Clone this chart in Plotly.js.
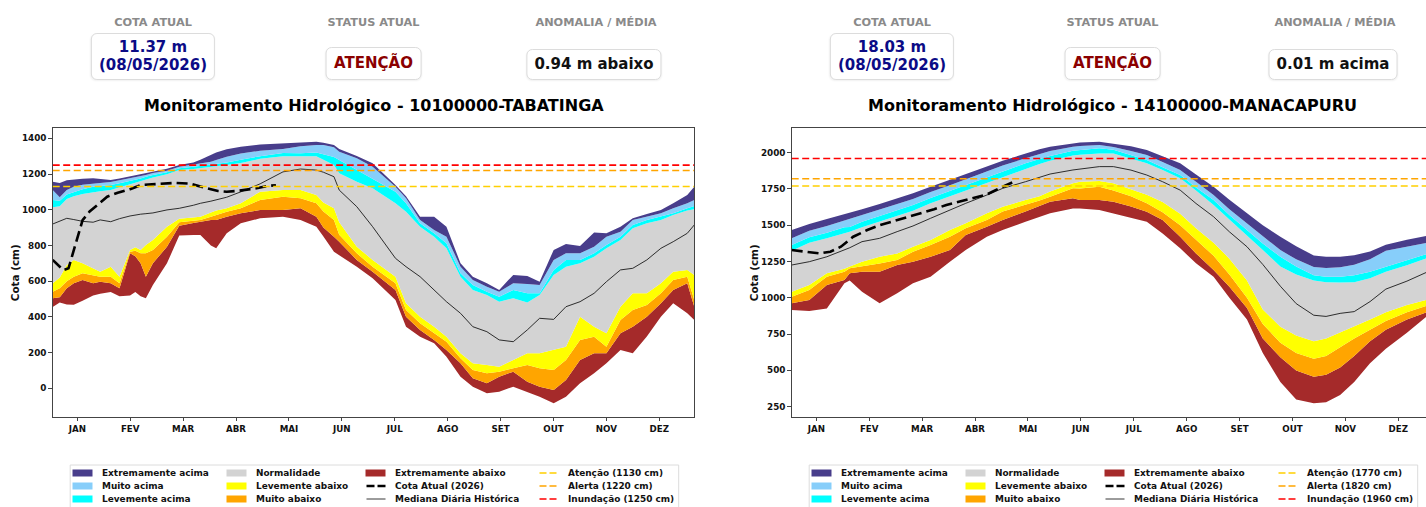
<!DOCTYPE html>
<html><head><meta charset="utf-8">
<script src="https://cdn.plot.ly/plotly-3.0.1.min.js"></script>
<style>
html,body{margin:0;padding:0;background:#fff;overflow:hidden;width:1426px;height:507px;}
#wrap{position:relative;width:1426px;height:507px;overflow:hidden;}
#chart{position:absolute;left:0;top:0;width:1442px;height:507px;}
.lbl{position:absolute;font-family:'DejaVu Sans';font-weight:bold;font-size:11.3px;color:#8a8a8a;transform:translate(-50%,-50%);white-space:nowrap;z-index:5;}
.card{position:absolute;transform:translateX(-50%);border:1px solid #dcdcdc;border-radius:6px;background:#fff;font-family:'DejaVu Sans';font-weight:bold;font-size:15px;text-align:center;box-sizing:border-box;white-space:nowrap;display:flex;flex-direction:column;justify-content:center;line-height:18px;padding:0 7px;z-index:5;box-shadow:0 1px 2px rgba(0,0,0,0.06);}
</style></head>
<body><div id="wrap"><div id="chart"></div></div>
<script>
// ---------------- DATA ----------------
const stationNames = ['10100000-TABATINGA', '14100000-MANACAPURU'];
const cotaAtual = ['11.37 m', '18.03 m'];
const cotaData = ['08/05/2026', '08/05/2026'];
const statusAtual = ['ATENÇÃO', 'ATENÇÃO'];
const anomalia = ['0.94 m abaixo', '0.01 m acima'];

const months = ['JAN','FEV','MAR','ABR','MAI','JUN','JUL','AGO','SET','OUT','NOV','DEZ'];
const monthTickDays = [15, 45.1, 75.2, 105.3, 135.4, 165.5, 195.6, 225.7, 255.8, 285.9, 316, 346.1];

const bandNames = ['Extremamente abaixo','Muito abaixo','Levemente abaixo','Normalidade','Levemente acima','Muito acima','Extremamente acima'];
const thresholdNames = ['Atenção','Alerta','Inundação'];
const tabThresholds = [1130, 1220, 1250];
const manThresholds = [1770, 1820, 1960];
const tabYTicks = [0, 200, 400, 600, 800, 1000, 1200, 1400];
const manYTicks = [250, 500, 750, 1000, 1250, 1500, 1750, 2000];

// TABATINGA (cm) by day of year
const tabDays = [1,5,9,13,18,24,28,34,39,45,48,51,54,58,66,73,81,85,91,94,100,108,119,132,142,151,155,161,164,174,183,196,202,210,218,225,233,240,248,255,263,271,278,286,293,301,309,316,324,331,339,347,354,362,366];
const tabFloor = [455,480,470,468,490,520,530,540,515,520,540,515,504,579,700,855,859,859,800,784,868,924,952,961,943,905,850,765,745,681,616,495,345,289,252,177,65,9,-28,-19,9,-19,-47,-84,-47,28,84,140,215,196,290,401,476,420,383];
const tabExtAbaixo = [504,510,560,588,607,588,597,588,560,756,740,700,625,700,793,910,925,933,943,943,961,980,999,999,1008,961,900,849,821,719,653,551,401,327,271,215,140,56,28,65,93,37,9,-9,47,159,196,196,308,345,401,476,551,588,457];
const tabMuitoAbaixo = [541,560,600,625,644,635,625,625,588,765,770,756,756,775,849,930,938,943,961,971,989,1008,1055,1073,1064,1036,990,943,860,756,681,588,439,364,308,261,168,103,84,93,112,131,112,103,159,271,289,233,383,439,467,532,607,625,495];
const tabLevAbaixo = [588,620,690,719,700,672,653,681,625,775,790,775,803,831,905,950,958,961,985,995,1008,1036,1101,1111,1111,1083,1040,1008,930,793,719,625,476,401,345,289,196,140,131,121,159,196,196,215,233,401,345,308,457,532,532,588,653,663,635];
const tabNormal = [1014,1020,1060,1076,1088,1100,1104,1110,1125,1140,1150,1160,1170,1180,1198,1222,1228,1232,1240,1245,1250,1262,1285,1300,1301,1300,1280,1250,1204,1157,1120,1036,989,905,849,784,625,551,523,485,504,480,523,635,681,700,737,784,831,896,924,943,971,995,1002];
const tabLevAcima = [1054,1050,1085,1100,1115,1128,1132,1138,1148,1160,1165,1175,1185,1195,1210,1232,1240,1245,1252,1258,1264,1280,1300,1318,1316,1320,1310,1295,1279,1223,1176,1101,1036,924,868,812,644,579,541,513,551,532,532,663,719,719,756,803,849,915,943,961,980,1008,1021];
const tabMuitoAcima = [1110,1070,1110,1128,1140,1148,1150,1155,1165,1175,1180,1188,1195,1205,1218,1240,1252,1258,1268,1278,1297,1315,1330,1340,1355,1363,1362,1350,1325,1288,1241,1129,1064,943,887,849,681,607,569,541,588,584,579,719,756,756,793,849,877,943,961,980,1008,1036,1055];
const tabExtAcima = [1157,1150,1165,1170,1174,1176,1172,1166,1175,1188,1194,1200,1205,1212,1230,1250,1265,1280,1305,1320,1338,1352,1365,1372,1375,1380,1375,1363,1340,1301,1260,1139,1075,961,961,905,700,625,588,551,635,629,597,775,808,797,872,868,905,952,976,999,1036,1083,1129];
const tabMediana = [920,935,952,945,935,930,943,933,950,965,971,975,978,982,999,1008,1025,1036,1048,1055,1070,1100,1145,1212,1228,1222,1210,1185,1110,1017,905,728,681,625,551,485,420,345,317,271,261,327,392,386,457,485,532,597,663,672,719,784,821,868,915];
const tabAtualDays = [1,4,7,10,14,18,22,27,32,38,45,51,60,70,79,84,89,95,100,106,111,117,123,128];
const tabAtual = [719,690,662,672,800,942,990,1030,1073,1095,1115,1138,1145,1150,1146,1135,1120,1105,1101,1105,1111,1120,1133,1137];

// MANACAPURU (cm) by day of year
const manDays = [1,11,21,31,34,41,51,61,70,80,91,100,112,121,134,142,148,161,165,176,184,194,203,212,222,231,241,250,260,269,279,288,298,305,313,321,330,339,351,362,366];
const manFloor = [916,909,927,1100,1120,1042,962,1031,1100,1146,1249,1329,1421,1467,1524,1555,1582,1616,1616,1605,1582,1555,1525,1444,1341,1238,1146,1000,850,620,420,300,273,280,330,420,550,650,760,870,880];
const manExtAbaixo = [962,985,1088,1123,1169,1180,1180,1226,1249,1283,1329,1433,1490,1536,1594,1630,1662,1686,1674,1674,1662,1630,1593,1536,1421,1306,1192,1077,930,720,590,500,457,470,520,600,700,780,850,900,905];
const manMuitoAbaixo = [1008,1054,1146,1180,1203,1215,1237,1260,1318,1364,1421,1479,1536,1594,1640,1670,1697,1755,1754,1766,1740,1700,1651,1590,1500,1400,1290,1160,1000,820,690,620,580,600,660,720,780,840,900,945,950];
const manLevAbaixo = [1042,1088,1169,1200,1215,1249,1283,1306,1352,1398,1467,1513,1582,1628,1674,1700,1732,1789,1800,1805,1790,1750,1710,1660,1580,1480,1380,1270,1120,920,800,740,700,720,760,800,850,900,950,985,990];
const manNormal = [1325,1380,1410,1444,1456,1486,1525,1566,1600,1651,1699,1741,1796,1834,1892,1922,1945,1981,1985,1995,1995,1960,1927,1880,1823,1740,1640,1540,1433,1330,1215,1160,1120,1108,1105,1108,1135,1180,1225,1272,1280];
const manLevAcima = [1364,1417,1449,1486,1488,1525,1564,1605,1639,1688,1736,1777,1832,1871,1927,1956,1977,2014,2018,2030,2021,1985,1950,1900,1846,1760,1674,1570,1467,1375,1283,1215,1155,1145,1145,1155,1180,1215,1260,1300,1305];
const manMuitoAcima = [1410,1463,1495,1532,1543,1568,1605,1646,1681,1729,1775,1816,1869,1911,1961,1991,2012,2041,2046,2053,2039,2012,1984,1935,1881,1800,1708,1610,1513,1420,1329,1265,1212,1205,1210,1228,1265,1325,1352,1380,1388];
const manExtAcima = [1467,1508,1543,1575,1587,1610,1646,1685,1720,1766,1812,1851,1904,1945,1995,2023,2041,2064,2071,2076,2064,2045,2018,1975,1927,1850,1766,1675,1582,1500,1421,1355,1292,1283,1283,1293,1320,1365,1400,1430,1436];
const manMediana = [1226,1249,1283,1329,1345,1387,1410,1456,1495,1548,1605,1651,1708,1754,1800,1830,1853,1881,1888,1904,1904,1880,1846,1800,1742,1650,1559,1455,1352,1230,1080,960,880,872,893,905,974,1060,1115,1175,1182];
const manAtualDays = [1,10,17,23,29,36,44,51,61,70,82,89,100,112,120,125,128];
const manAtual = [1329,1318,1306,1318,1352,1421,1467,1500,1535,1570,1610,1640,1672,1712,1760,1785,1803];

// ---------------- STYLE ----------------
const W = 1442, H = 507;
const FONT = 'DejaVu Sans';
const LEGEND_SIZE = 8.95;
const bandColors = ['#A52A2A','#FFA500','#FFFF00','#D3D3D3','#00FFFF','#87CEFA','#483D8B'];
const thresholdColors = ['#FFD000','#FFA500','#FF0000'];
const plotLeft = [52.7, 791.7];
const plotW = 641.6, plotTop = 128.3, plotBottom = 416.7;
const px = v => v / W, py = v => 1 - v / H;

const stations = [
  {days: tabDays, bounds: [tabFloor, tabExtAbaixo, tabMuitoAbaixo, tabLevAbaixo, tabNormal, tabLevAcima, tabMuitoAcima, tabExtAcima],
   med: tabMediana, curD: tabAtualDays, cur: tabAtual, thr: tabThresholds, yticks: tabYTicks, yrange: [-159, 1456]},
  {days: manDays, bounds: [manFloor, manExtAbaixo, manMuitoAbaixo, manLevAbaixo, manNormal, manLevAcima, manMuitoAcima, manExtAcima],
   med: manMediana, curD: manAtualDays, cur: manAtual, thr: manThresholds, yticks: manYTicks, yrange: [181, 2168]}
];

const traces = [], shapes = [], annotations = [];
const layout = {
  width: W, height: H, margin: {l:0, r:0, t:0, b:0},
  paper_bgcolor: '#fff', plot_bgcolor: '#fff', showlegend: false,
  font: {family: FONT, color: '#111'}
};

stations.forEach((s, i) => {
  const xa = i === 0 ? 'x' : 'x2', ya = i === 0 ? 'y' : 'y2';
  const xk = i === 0 ? 'xaxis' : 'xaxis2', yk = i === 0 ? 'yaxis' : 'yaxis2';
  traces.push({x: s.days, y: s.bounds[0], xaxis: xa, yaxis: ya, mode: 'lines', line: {width: 0, color: bandColors[0]}, hoverinfo: 'skip'});
  for (let k = 1; k < s.bounds.length; k++) {
    traces.push({x: s.days, y: s.bounds[k], xaxis: xa, yaxis: ya, mode: 'lines', line: {width: 0, color: bandColors[k-1]},
      fill: 'tonexty', fillcolor: bandColors[k-1], name: bandNames[k-1], hoverinfo: 'skip'});
  }
  traces.push({x: s.days, y: s.med, xaxis: xa, yaxis: ya, mode: 'lines', line: {color: '#1a1a1a', width: 0.9}, name: 'Mediana Diária Histórica'});
  traces.push({x: s.curD, y: s.cur, xaxis: xa, yaxis: ya, mode: 'lines', line: {color: '#000', width: 2.6, dash: '11px,5px'}, name: 'Cota Atual (2026)'});
  s.thr.forEach((v, t) => {
    shapes.push({type: 'line', xref: xa, yref: ya, x0: 1, x1: 366, y0: v, y1: v, layer: 'above',
      line: {color: thresholdColors[t], width: 1.6, dash: '7px,3.5px'}});
  });

  const L = plotLeft[i];
  layout[xk] = {domain: [px(L), px(L + plotW)], range: [1, 366], anchor: ya,
    tickvals: monthTickDays, ticktext: months, ticks: 'outside', ticklen: 3.5, tickcolor: '#444', tickwidth: 1,
    showline: true, mirror: true, linecolor: '#444', linewidth: 1, showgrid: false, zeroline: false,
    tickfont: {family: FONT, size: 8.7, color: '#111', weight: 'bold'}};
  layout[yk] = {domain: [py(plotBottom), py(plotTop)], range: s.yrange, anchor: xa,
    tickvals: s.yticks, ticks: 'outside', ticklen: 3.5, tickcolor: '#444', tickwidth: 1,
    showline: true, mirror: true, linecolor: '#444', linewidth: 1, showgrid: false, zeroline: false,
    tickfont: {family: FONT, size: 8.8, color: '#111', weight: 'bold'}};

  annotations.push({xref: 'paper', yref: 'paper', x: px(L + plotW / 2), y: py(106), xanchor: 'center', yanchor: 'middle',
    text: 'Monitoramento Hidrológico - ' + stationNames[i], showarrow: false,
    font: {family: FONT, size: 16, color: '#000', weight: 'bold'}});
  annotations.push({xref: 'paper', yref: 'paper', x: px(L - 37.5), y: py(273), xanchor: 'center', yanchor: 'middle',
    text: 'Cota (cm)', textangle: -90, showarrow: false, font: {family: FONT, size: 10.4, color: '#111', weight: 'bold'}});

  shapes.push({type: 'rect', xref: 'paper', yref: 'paper', x0: px(L + 17.5), x1: px(L + 626), y0: py(465), y1: py(520),
    line: {color: '#dcdcdc', width: 1}, fillcolor: 'rgba(255,255,255,0.9)', layer: 'below'});
  const colX = [19.8, 173.8, 312.8, 485.8];
  const rowY = [473, 486, 499];
  const items = [
    {c:0, r:0, kind:'patch', color: bandColors[6], label: bandNames[6]},
    {c:0, r:1, kind:'patch', color: bandColors[5], label: bandNames[5]},
    {c:0, r:2, kind:'patch', color: bandColors[4], label: bandNames[4]},
    {c:1, r:0, kind:'patch', color: bandColors[3], label: bandNames[3]},
    {c:1, r:1, kind:'patch', color: bandColors[2], label: bandNames[2]},
    {c:1, r:2, kind:'patch', color: bandColors[1], label: bandNames[1]},
    {c:2, r:0, kind:'patch', color: bandColors[0], label: bandNames[0]},
    {c:2, r:1, kind:'line', color: '#000', width: 2.6, dash: '8px,3px', label: 'Cota Atual (2026)'},
    {c:2, r:2, kind:'line', color: '#222', width: 0.9, dash: 'solid', label: 'Mediana Diária Histórica'},
    {c:3, r:0, kind:'line', color: thresholdColors[0], width: 1.4, dash: '7px,3px', label: thresholdNames[0] + ' (' + s.thr[0] + ' cm)'},
    {c:3, r:1, kind:'line', color: thresholdColors[1], width: 1.4, dash: '7px,3px', label: thresholdNames[1] + ' (' + s.thr[1] + ' cm)'},
    {c:3, r:2, kind:'line', color: thresholdColors[2], width: 1.4, dash: '7px,3px', label: thresholdNames[2] + ' (' + s.thr[2] + ' cm)'}
  ];
  items.forEach(it => {
    const x0 = L + colX[it.c], yy = rowY[it.r];
    if (it.kind === 'patch') {
      shapes.push({type: 'rect', xref: 'paper', yref: 'paper', x0: px(x0), x1: px(x0 + 20), y0: py(yy + 3.5), y1: py(yy - 3.5),
        line: {width: 0}, fillcolor: it.color});
    } else {
      shapes.push({type: 'line', xref: 'paper', yref: 'paper', x0: px(x0 + 1), x1: px(x0 + 20), y0: py(yy), y1: py(yy),
        line: {color: it.color, width: it.width, dash: it.dash}});
    }
    annotations.push({xref: 'paper', yref: 'paper', x: px(x0 + 27), y: py(yy), xanchor: 'left', yanchor: 'middle',
      text: it.label, showarrow: false, font: {family: FONT, size: LEGEND_SIZE, color: '#111', weight: 'bold'}});
  });
});
layout.shapes = shapes;
layout.annotations = annotations;

Plotly.newPlot('chart', traces, layout, {staticPlot: true, displayModeBar: false});

// header cards
const wrap = document.getElementById('wrap');
const colCenters = [153, 373.5, 596];
const labels = ['COTA ATUAL', 'STATUS ATUAL', 'ANOMALIA / MÉDIA'];
plotLeft.forEach((L, i) => {
  const off = L - plotLeft[0];
  labels.forEach((t, j) => {
    const d = document.createElement('div');
    d.className = 'lbl'; d.textContent = t;
    d.style.left = (colCenters[j] + off) + 'px'; d.style.top = '21.5px';
    wrap.appendChild(d);
  });
  const c1 = document.createElement('div');
  c1.className = 'card'; c1.style.left = (colCenters[0] + off) + 'px'; c1.style.top = '33px'; c1.style.height = '46.5px';
  c1.style.color = '#0b0b86';
  c1.innerHTML = cotaAtual[i] + '<br>(' + cotaData[i] + ')';
  wrap.appendChild(c1);
  const c2 = document.createElement('div');
  c2.className = 'card'; c2.style.left = (colCenters[1] + off) + 'px'; c2.style.top = '47px'; c2.style.height = '32.5px';
  c2.style.color = '#8b0000'; c2.style.padding = '0 8px';
  c2.textContent = statusAtual[i];
  wrap.appendChild(c2);
  const c3 = document.createElement('div');
  c3.className = 'card'; c3.style.left = (colCenters[2] + off - 2) + 'px'; c3.style.top = '49px'; c3.style.height = '30.5px';
  c3.style.color = '#111';
  c3.textContent = anomalia[i];
  wrap.appendChild(c3);
});
</script>
</body></html>
